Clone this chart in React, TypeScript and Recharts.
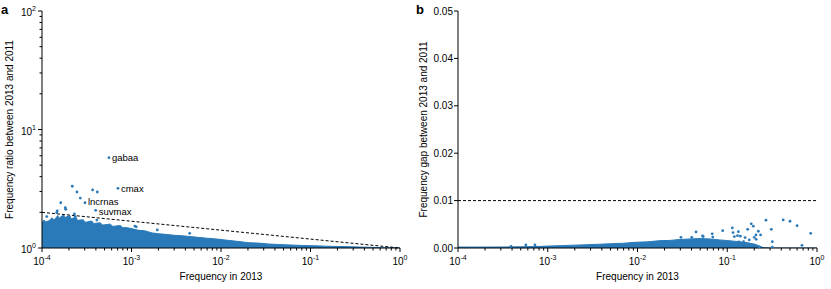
import { ComposedChart, Scatter, Area, XAxis, YAxis, ReferenceLine } from 'recharts';

const FONT = '"Liberation Sans", Arial, Helvetica, sans-serif';
const BLUE = '#2a7ab9';

// x ticks: decades from 1e-4 to 1 plus the minor steps 2..9
const X_DECADES = [1e-4, 1e-3, 1e-2, 1e-1];
const MINOR_STEPS = [1, 2, 3, 4, 5, 6, 7, 8, 9];
const X_TICKS = [...X_DECADES.flatMap((d) => MINOR_STEPS.map((m) => m * d)), 1];
const RATIO_TICKS = [...[1, 10].flatMap((d) => MINOR_STEPS.map((m) => m * d)), 100];
const GAP_TICKS = [0, 0.01, 0.02, 0.03, 0.04, 0.05];

// panel a: upper edge of the dense cloud of genes (frequency, ratio)
const RATIO_MASS: [number, number][] = [
  [1.0e-4, 1.64], [1.05e-4, 1.72], [1.1e-4, 1.66], [1.2e-4, 1.7], [1.3e-4, 1.8],
  [1.35e-4, 1.72], [1.4e-4, 1.76], [1.5e-4, 1.88], [1.55e-4, 1.78], [1.6e-4, 1.82],
  [1.75e-4, 1.9], [1.8e-4, 1.8], [1.9e-4, 1.84], [2.05e-4, 1.87], [2.1e-4, 1.76],
  [2.2e-4, 1.78], [2.4e-4, 1.82], [2.5e-4, 1.7], [2.6e-4, 1.72], [2.9e-4, 1.73],
  [3.0e-4, 1.65], [3.2e-4, 1.66], [3.6e-4, 1.69], [3.8e-4, 1.6], [4.0e-4, 1.62],
  [4.5e-4, 1.63], [4.7e-4, 1.56], [5.0e-4, 1.57], [5.8e-4, 1.59], [6.2e-4, 1.52],
  [6.6e-4, 1.53], [7.5e-4, 1.55], [8.0e-4, 1.48], [8.5e-4, 1.49], [1.0e-3, 1.46],
  [1.2e-3, 1.41], [1.4e-3, 1.4], [1.7e-3, 1.34], [2.0e-3, 1.32], [2.5e-3, 1.3],
  [3.0e-3, 1.28], [3.6e-3, 1.27], [4.5e-3, 1.25], [5.5e-3, 1.23], [7e-3, 1.21],
  [9e-3, 1.19], [1.2e-2, 1.16], [1.5e-2, 1.14], [2.0e-2, 1.11], [2.6e-2, 1.1],
  [3.4e-2, 1.08], [4.5e-2, 1.07], [6e-2, 1.06], [8e-2, 1.05], [0.11, 1.045],
  [0.15, 1.035], [0.2, 1.03], [0.27, 1.025], [0.36, 1.018], [0.5, 1.012],
  [0.65, 1.006], [0.8, 1.003], [1.0, 1.0],
];

const RATIO_OUTLIERS: [number, number][] = [
  [2.18e-4, 3.32], [2.46e-4, 2.97], [3.68e-4, 3.09], [4.15e-4, 2.97], [2.68e-4, 2.64],
  [1.62e-4, 2.41], [1.48e-4, 2.06], [1.82e-4, 2.19], [1.84e-4, 2.12], [1.46e-4, 1.99],
  [1.13e-4, 1.84], [2.35e-4, 1.84], [2.3e-4, 1.94], [4.1e-4, 1.72], [1.09e-3, 1.53],
  [1.13e-3, 1.51], [1.94e-3, 1.42], [4.47e-3, 1.33],
];

const LABELED_NAMES = ['gabaa', 'cmax', 'lncrnas', 'suvmax'];
const LABELED_X = [5.6e-4, 7.06e-4, 3.02e-4, 3.98e-4];
const LABELED_Y = [5.78, 3.19, 2.41, 2.08];
// small vertical nudges so the two close labels sit like the reference
const LABEL_DY = [3.5, 3.5, 2.5, 4.5];

// dashed reference from ratio 2 at 1e-4 down to 1 at frequency 1
const RATIO_GUIDE = [{ x: 1e-4, y: 2 }, { x: 1, y: 1 }];

// panel b: upper edge of the dense cloud (frequency, gap)
const GAP_MASS: [number, number][] = [
  [1e-4, 0.0002], [2e-4, 0.0002], [3.6e-4, 0.00022], [5e-4, 0.00026], [7e-4, 0.0003],
  [1e-3, 0.0004], [1.4e-3, 0.0005], [2e-3, 0.0006], [2.8e-3, 0.0007], [3.8e-3, 0.0008],
  [5e-3, 0.0009], [7e-3, 0.001], [9.4e-3, 0.0012], [1.3e-2, 0.0013], [1.78e-2, 0.00155],
  [2.3e-2, 0.0016], [2.97e-2, 0.0018], [3.8e-2, 0.0019], [4.97e-2, 0.002], [6.5e-2, 0.0019],
  [8.3e-2, 0.0017], [0.11, 0.0015], [0.139, 0.0013], [0.17, 0.0011], [0.204, 0.0008],
  [0.23, 0.0004], [0.25, 0.0001], [0.3, 0], [1, 0],
];

const GAP_POINTS: [number, number][] = [
  [3.9e-4, 0.00036], [5.7e-4, 0.00063], [7.2e-4, 0.00063],
  [0.0305, 0.00226], [0.0403, 0.00226], [0.0449, 0.0034], [0.053, 0.00254], [0.054, 0.0024],
  [0.068, 0.003], [0.069, 0.0023], [0.089, 0.00366], [0.114, 0.00423], [0.116, 0.00325],
  [0.12, 0.0024], [0.13, 0.0026], [0.133, 0.00345], [0.14, 0.0025], [0.135, 0.0013],
  [0.152, 0.00134], [0.158, 0.0022], [0.169, 0.00395], [0.176, 0.0017], [0.185, 0.0051],
  [0.195, 0.0046], [0.2, 0.00226], [0.209, 0.00275], [0.21, 0.00184], [0.222, 0.00353],
  [0.227, 0.0002], [0.235, 0.00275], [0.27, 0.00586], [0.31, 0.00395], [0.318, 0.00134],
  [0.318, 0.0002], [0.42, 0.00592], [0.5, 0.00564], [0.6, 0.00472], [0.68, 0.00057],
  [0.85, 0.0031],
];

const GAP_THRESHOLD = 0.01;

const toXY = (pts: [number, number][]) => pts.map(([x, y]) => ({ x, y }));
const labeledData = LABELED_NAMES.map((name, i) => ({ name, x: LABELED_X[i], y: LABELED_Y[i], dy: LABEL_DY[i] }));

function isDecade(v: number) {
  const p = Math.log10(v);
  return Math.abs(p - Math.round(p)) < 1e-6;
}

function PowerLabel({ x, y, exp, anchor }: { x: number; y: number; exp: number; anchor: 'middle' | 'end' }) {
  return (
    <text x={x} y={y} textAnchor={anchor} fontSize={10} fontFamily={FONT} fill="#000">
      10<tspan dy={-5} fontSize={7}>{exp}</tspan>
    </text>
  );
}

function LogTickX(props: any) {
  const { x, y, payload } = props;
  const major = isDecade(payload.value);
  return (
    <g>
      <line x1={x} x2={x} y1={y} y2={y + (major ? 4 : 2.5)} stroke="#000" />
      {major && <PowerLabel x={x} y={y + 17} exp={Math.round(Math.log10(payload.value))} anchor="middle" />}
    </g>
  );
}

function LogTickY(props: any) {
  const { x, y, payload } = props;
  const major = isDecade(payload.value);
  return (
    <g>
      <line x1={x - (major ? 4 : 2.5)} x2={x} y1={y} y2={y} stroke="#000" />
      {major && <PowerLabel x={x - 6} y={y + 5} exp={Math.round(Math.log10(payload.value))} anchor="end" />}
    </g>
  );
}

function GapTickY(props: any) {
  const { x, y, payload } = props;
  return (
    <g>
      <line x1={x - 4} x2={x} y1={y} y2={y} stroke="#000" />
      <text x={x - 5} y={y + 3.5} textAnchor="end" fontSize={10} fontFamily={FONT} fill="#000">
        {payload.value.toFixed(2)}
      </text>
    </g>
  );
}

const xTitle = (props: any) => {
  const vb = props.viewBox;
  return (
    <text x={vb.x + vb.width / 2} y={vb.y + 32} textAnchor="middle" fontSize={10} fontFamily={FONT} fill="#000">
      Frequency in 2013
    </text>
  );
};

const yTitle = (value: string, cx: number) => (props: any) => {
  const vb = props.viewBox;
  const cy = vb.y + vb.height / 2;
  return (
    <text
      x={cx}
      y={cy}
      transform={`rotate(-90 ${cx} ${cy})`}
      textAnchor="middle"
      dominantBaseline="central"
      fontSize={10}
      fontFamily={FONT}
      fill="#000"
    >
      {value}
    </text>
  );
};

const dot = (p: any) => <circle cx={p.cx} cy={p.cy} r={1.4} fill={BLUE} />;

const labeledDot = (p: any) => (
  <g>
    <circle cx={p.cx} cy={p.cy} r={1.4} fill={BLUE} />
    <text x={p.cx + 3} y={p.cy + p.payload.dy} fontSize={9.5} fontFamily={FONT} fill="#000">
      {p.payload.name}
    </text>
  </g>
);

const AXIS_LINE = { stroke: '#000' };

function RatioChart() {
  return (
    <ComposedChart width={415} height={289} data={toXY(RATIO_MASS)} margin={{ top: 11, right: 15, bottom: 0, left: 0 }}>
      <XAxis
        dataKey="x"
        type="number"
        scale="log"
        domain={[1e-4, 1]}
        allowDataOverflow
        ticks={X_TICKS}
        interval={0}
        tick={LogTickX}
        tickLine={false}
        tickSize={0}
        tickMargin={0}
        axisLine={AXIS_LINE}
        height={41}
        label={xTitle}
      />
      <YAxis
        dataKey="y"
        type="number"
        scale="log"
        domain={[1, 100]}
        allowDataOverflow
        ticks={RATIO_TICKS}
        interval={0}
        tick={LogTickY}
        tickLine={false}
        tickSize={0}
        tickMargin={0}
        axisLine={AXIS_LINE}
        width={42}
        label={yTitle('Frequency ratio between 2013 and 2011', 9)}
      />
      <Area
        dataKey="y"
        type="linear"
        baseValue={1}
        stroke={BLUE}
        strokeWidth={1}
        fill={BLUE}
        fillOpacity={1}
        dot={false}
        activeDot={false}
        isAnimationActive={false}
      />
      <Scatter data={toXY(RATIO_OUTLIERS)} shape={dot} isAnimationActive={false} />
      <Scatter data={labeledData} shape={labeledDot} isAnimationActive={false} />
      <ReferenceLine segment={RATIO_GUIDE} stroke="#000" strokeDasharray="3 2" strokeWidth={1} />
    </ComposedChart>
  );
}

function GapChart() {
  return (
    <ComposedChart width={416} height={289} data={toXY(GAP_MASS)} margin={{ top: 11, right: 14, bottom: 0, left: 0 }}>
      <XAxis
        dataKey="x"
        type="number"
        scale="log"
        domain={[1e-4, 1]}
        allowDataOverflow
        ticks={X_TICKS}
        interval={0}
        tick={LogTickX}
        tickLine={false}
        tickSize={0}
        tickMargin={0}
        axisLine={AXIS_LINE}
        height={41}
        label={xTitle}
      />
      <YAxis
        dataKey="y"
        type="number"
        domain={[0, 0.05]}
        allowDataOverflow
        ticks={GAP_TICKS}
        interval={0}
        tick={GapTickY}
        tickLine={false}
        tickSize={0}
        tickMargin={0}
        axisLine={AXIS_LINE}
        width={43}
        label={yTitle('Frequency gap between 2013 and 2011', 8)}
      />
      <Area
        dataKey="y"
        type="linear"
        baseValue={0}
        stroke={BLUE}
        strokeWidth={1}
        fill={BLUE}
        fillOpacity={1}
        dot={false}
        activeDot={false}
        isAnimationActive={false}
      />
      <Scatter data={toXY(GAP_POINTS)} shape={dot} isAnimationActive={false} />
      <ReferenceLine y={GAP_THRESHOLD} stroke="#000" strokeDasharray="3 2" strokeWidth={1} />
    </ComposedChart>
  );
}

const panelLetter = { position: 'absolute' as const, top: 2, fontWeight: 'bold' as const, fontSize: 13, fontFamily: FONT };

export default function App() {
  return (
    <div style={{ position: 'absolute', left: 0, top: 0, width: 831, height: 289, background: '#fff' }}>
      <div style={{ position: 'absolute', left: 0, top: 0 }}>
        <RatioChart />
      </div>
      <div style={{ position: 'absolute', left: 415, top: 0 }}>
        <GapChart />
      </div>
      <div style={{ ...panelLetter, left: 1 }}>a</div>
      <div style={{ ...panelLetter, left: 416 }}>b</div>
    </div>
  );
}
